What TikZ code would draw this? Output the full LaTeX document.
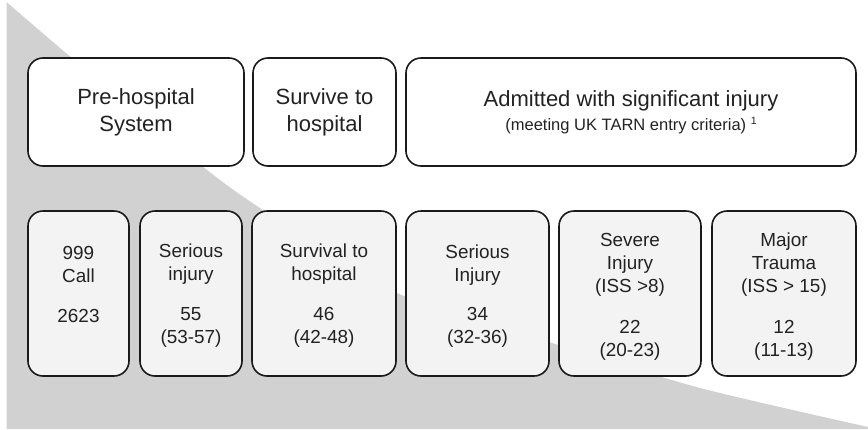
\documentclass[tikz,border=0pt]{standalone}
\usepackage{fontspec}
\setmainfont{Liberation Sans}
\definecolor{bggray}{HTML}{D0D1D0}
\definecolor{boxfill}{HTML}{F3F3F3}
\definecolor{edge}{HTML}{1A1A1A}
\definecolor{txt}{HTML}{222222}
\begin{document}
\begin{tikzpicture}[x=1pt,y=-1pt,
  topbox/.style={draw=edge, line width=1.6pt, rounded corners=15pt, fill=white,
    align=center, text=txt, font=\fontsize{22}{27}\selectfont, inner sep=0pt, minimum height=108pt},
  botbox/.style={draw=edge, line width=1.6pt, rounded corners=15pt, fill=boxfill,
    inner sep=0pt, minimum height=165pt},
  bottext/.style={align=center, text=txt, font=\fontsize{18.9}{23}\selectfont, inner sep=0pt}]
\useasboundingbox (0,0) rectangle (868,429);
\fill[bggray] plot[smooth,tension=0.4] coordinates {(6.5,2) (66,53) (202,166) (263,210) (397,293) (552,343) (700,388) (868,427)} -- (868,429) -- (6.5,429) -- cycle;

% top row
\node[topbox, minimum width=216pt] (pre) at (136,112) {Pre-hospital\\System};
\node[topbox, minimum width=143pt] (surv) at (324.5,112) {Survive to\\hospital};
\node[topbox, minimum width=450pt, font=\fontsize{22}{24}\selectfont] (adm) at (631,112)
  {Admitted with significant injury\\{\fontsize{16.5}{20}\selectfont (meeting UK TARN entry criteria) \raisebox{6pt}{\fontsize{10.5}{12}\selectfont 1}}};

% bottom row boxes
\node[botbox, minimum width=101pt] (b1) at (78.5,293.5) {};
\node[botbox, minimum width=102pt] (b2) at (191,293.5) {};
\node[botbox, minimum width=144pt] (b3) at (324,293.5) {};
\node[botbox, minimum width=143pt] (b4) at (477.5,293.5) {};
\node[botbox, minimum width=142pt] (b5) at (630,293.5) {};
\node[botbox, minimum width=144pt] (b6) at (784,293.5) {};

% bottom row texts
\node[bottext] (t1) at (78.5,284.5) {999\\Call\\[17pt]2623};
\node[bottext] (t2) at (191,296) {Serious\\injury\\[17pt]55\\(53-57)};
\node[bottext] (t3) at (324,296) {Survival to\\hospital\\[17pt]46\\(42-48)};
\node[bottext] (t4) at (477.5,296) {Serious\\Injury\\[16pt]34\\(32-36)};
\node[bottext] (t5) at (630,297) {Severe\\Injury\\(ISS >8)\\[18pt]22\\(20-23)};
\node[bottext] (t6) at (784,297) {Major\\Trauma\\(ISS > 15)\\[18pt]12\\(11-13)};
\end{tikzpicture}
\end{document}
